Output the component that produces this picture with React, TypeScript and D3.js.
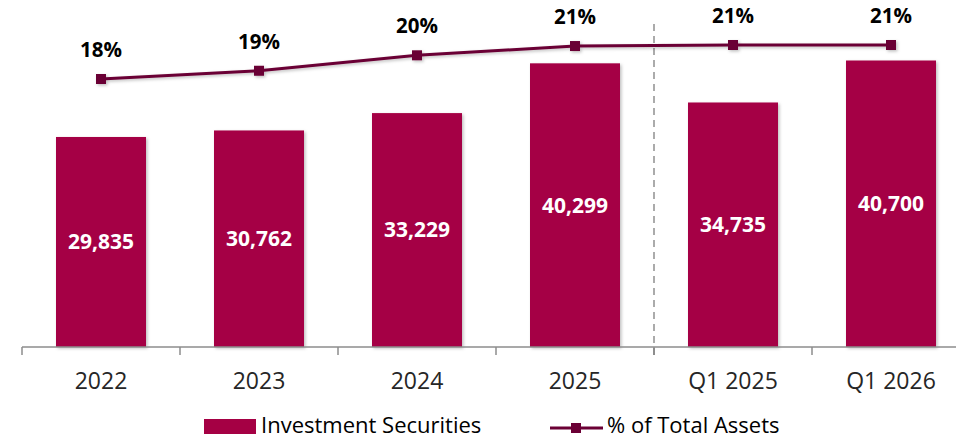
// Investment securities bar + % of total assets line

import { useEffect, useRef } from "react";
import * as d3 from "d3";

const categories = ["2022", "2023", "2024", "2025", "Q1 2025", "Q1 2026"];
const securities = [29835, 30762, 33229, 40299, 34735, 40700];
const pctOfAssets = [17.8, 18.6, 20.1, 21.0, 21.1, 21.1];

const WIDTH = 956;
const HEIGHT = 438;
const BAR_COLOR = "#A50044";
const LINE_COLOR = "#6B0035";
const FONT = "'Open Sans', 'Liberation Sans', sans-serif";

export default function App() {
  const svgRef = useRef<SVGSVGElement>(null);

  useEffect(() => {
    if (!svgRef.current) return;
    const svg = d3.select(svgRef.current);
    svg.selectAll("*").remove();

    const left = 22;
    const baseline = 347;

    const x = d3
      .scaleBand<string>()
      .domain(categories)
      .range([left, left + 158 * categories.length])
      .paddingInner(68 / 158)
      .paddingOuter(34 / 158);

    const y = d3.scaleLinear().domain([0, 40700]).range([baseline, 60.5]);
    const y2 = d3.scaleLinear().domain([17.8, 21.1]).range([79, 45]);

    // shadow filter
    const defs = svg.append("defs");
    const f = defs.append("filter").attr("id", "shadow").attr("x", "-20%").attr("y", "-20%").attr("width", "150%").attr("height", "150%");
    f.append("feDropShadow")
      .attr("dx", 1.5)
      .attr("dy", 1.5)
      .attr("stdDeviation", 1.5)
      .attr("flood-color", "#000")
      .attr("flood-opacity", 0.25);

    // bars
    svg
      .append("g")
      .selectAll("rect")
      .data(securities)
      .join("rect")
      .attr("x", (_, i) => x(categories[i])!)
      .attr("y", (d) => y(d))
      .attr("width", x.bandwidth())
      .attr("height", (d) => baseline - y(d))
      .attr("fill", BAR_COLOR)
      .attr("filter", "url(#shadow)");

    // bar labels
    svg
      .append("g")
      .selectAll("text")
      .data(securities)
      .join("text")
      .attr("x", (_, i) => x(categories[i])! + x.bandwidth() / 2)
      .attr("y", (d) => (y(d) + baseline) / 2)
      .attr("dy", "0.35em")
      .attr("text-anchor", "middle")
      .attr("fill", "#fff")
      .style("font-family", FONT)
      .style("font-size", "21px")
      .style("font-weight", "bold")
      .text((d) => d3.format(",")(d));

    // x axis
    const axis = svg.append("g");
    axis
      .append("line")
      .attr("x1", left)
      .attr("x2", WIDTH)
      .attr("y1", baseline)
      .attr("y2", baseline)
      .attr("stroke", "#8c8c8c")
      .attr("stroke-width", 1.5);
    axis
      .selectAll("line.tick")
      .data(categories)
      .join("line")
      .attr("class", "tick")
      .attr("x1", (d) => x(d)! - x.step() * x.paddingOuter())
      .attr("x2", (d) => x(d)! - x.step() * x.paddingOuter())
      .attr("y1", baseline)
      .attr("y2", baseline + 8)
      .attr("stroke", "#8c8c8c")
      .attr("stroke-width", 1.5);
    axis
      .selectAll("text")
      .data(categories)
      .join("text")
      .attr("x", (d) => x(d)! + x.bandwidth() / 2)
      .attr("y", 389)
      .attr("text-anchor", "middle")
      .attr("fill", "#262626")
      .style("font-family", FONT)
      .style("font-size", "23px")
      .text((d) => d);

    // dashed divider between years and quarters
    const divX = x("Q1 2025")! - x.step() * x.paddingOuter();
    svg
      .append("line")
      .attr("x1", divX)
      .attr("x2", divX)
      .attr("y1", 24)
      .attr("y2", 356)
      .attr("stroke", "#7f7f7f")
      .attr("stroke-width", 1.3)
      .attr("stroke-dasharray", "7,5");

    // line series
    const cx = (i: number) => x(categories[i])! + x.bandwidth() / 2;
    const line = d3
      .line<number>()
      .x((_, i) => cx(i))
      .y((d) => y2(d));
    const lg = svg.append("g").attr("filter", "url(#shadow)");
    lg.append("path")
      .datum(pctOfAssets)
      .attr("d", line)
      .attr("fill", "none")
      .attr("stroke", LINE_COLOR)
      .attr("stroke-width", 3);
    lg.selectAll("rect")
      .data(pctOfAssets)
      .join("rect")
      .attr("x", (_, i) => cx(i) - 5)
      .attr("y", (d) => y2(d) - 5)
      .attr("width", 10)
      .attr("height", 10)
      .attr("fill", LINE_COLOR);

    svg
      .append("g")
      .selectAll("text")
      .data(pctOfAssets)
      .join("text")
      .attr("x", (_, i) => cx(i))
      .attr("y", (d) => y2(d) - 22)
      .attr("text-anchor", "middle")
      .attr("fill", "#000")
      .style("font-family", FONT)
      .style("font-size", "20.5px")
      .style("font-weight", "bold")
      .text((d) => `${Math.round(d)}%`);

    // legend
    const leg = svg.append("g");
    leg.append("rect")
      .attr("x", 204)
      .attr("y", 419)
      .attr("width", 52)
      .attr("height", 15)
      .attr("fill", BAR_COLOR);
    leg.append("text")
      .attr("x", 261)
      .attr("y", 433)
      .attr("fill", "#000")
      .style("font-family", FONT)
      .style("font-size", "22px")
      .text("Investment Securities");
    leg.append("line")
      .attr("x1", 550)
      .attr("x2", 603)
      .attr("y1", 428)
      .attr("y2", 428)
      .attr("stroke", LINE_COLOR)
      .attr("stroke-width", 3);
    leg.append("rect")
      .attr("x", 571)
      .attr("y", 423)
      .attr("width", 10)
      .attr("height", 10)
      .attr("fill", LINE_COLOR);
    leg.append("text")
      .attr("x", 607)
      .attr("y", 433)
      .attr("fill", "#000")
      .style("font-family", FONT)
      .style("font-size", "22px")
      .text("% of Total Assets");
  }, []);

  return (
    <svg
      ref={svgRef}
      width={WIDTH}
      height={HEIGHT}
      style={{ position: "absolute", left: 0, top: 0, background: "#fff" }}
    />
  );
}
